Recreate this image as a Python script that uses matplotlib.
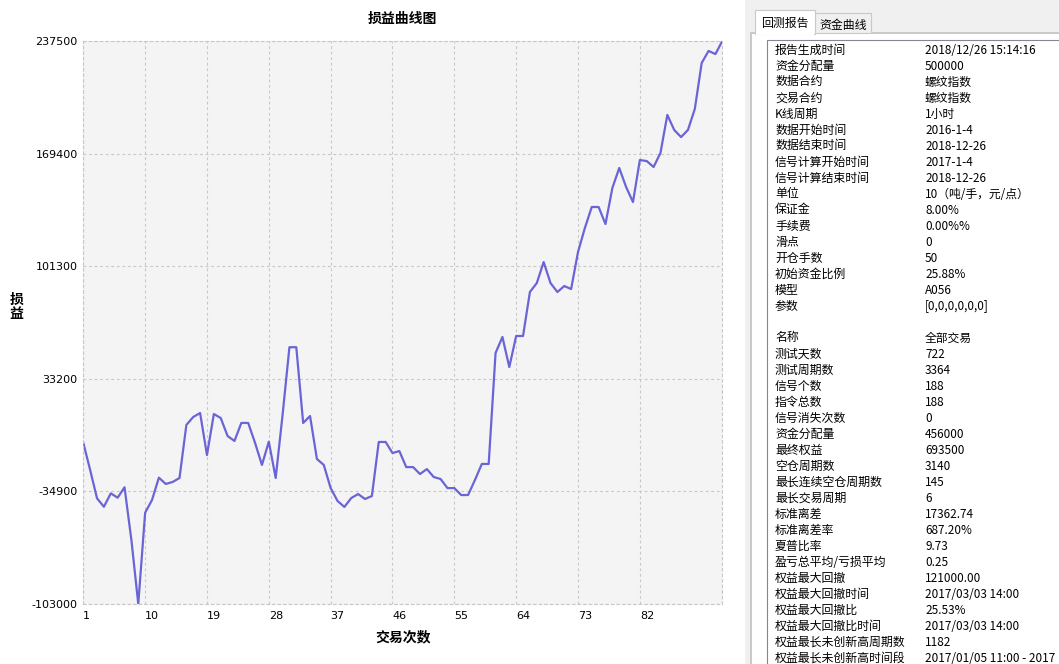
import matplotlib
matplotlib.use("Agg")
import matplotlib.pyplot as plt
from matplotlib.patches import Rectangle

# profit curve, one value per trade
trades = list(range(1, 95))
pnl = [-5500, -22000, -39100, -44200, -36100, -38700, -32400, -64300, -103000, -47800,
       -40100, -26600, -30400, -29200, -26800, 5300, 10100, 12500, -12900, 11900,
       9500, -1400, -4400, 6500, 6500, -5600, -18900, -4800, -26800, 11300,
       52300, 52300, 6500, 10700, -15300, -18900, -32900, -40700, -44300, -38900,
       -36500, -39500, -37700, -5000, -5000, -11700, -10500, -20200, -20200, -24400,
       -21400, -26200, -27400, -32900, -32900, -37100, -37100, -28000, -18300, -18300,
       48800, 58500, 40300, 59100, 59100, 85700, 91100, 103800, 91100, 85700,
       89300, 87500, 109900, 124400, 137100, 137100, 126800, 148600, 160700, 149200,
       140100, 165500, 164900, 161300, 169800, 192800, 183700, 179400, 183700, 196400,
       224200, 231500, 229600, 237500]

x_ticks = [1, 10, 19, 28, 37, 46, 55, 64, 73, 82]
y_ticks = [-103000, -34900, 33200, 101300, 169400, 237500]

# report panel text
report_labels = ["报告生成时间", "资金分配量", "数据合约", "交易合约", "K线周期",
                 "数据开始时间", "数据结束时间", "信号计算开始时间", "信号计算结束时间",
                 "单位", "保证金", "手续费", "滑点", "开仓手数", "初始资金比例", "模型", "参数"]
report_values = ["2018/12/26 15:14:16", "500000", "螺纹指数", "螺纹指数", "1小时",
                 "2016-1-4", "2018-12-26", "2017-1-4", "2018-12-26",
                 "10（吨/手，元/点）", "8.00%", "0.00%%", "0", "50", "25.88%", "A056",
                 "[0,0,0,0,0,0]"]
stats_labels = ["名称", "测试天数", "测试周期数", "信号个数", "指令总数", "信号消失次数",
                "资金分配量", "最终权益", "空仓周期数", "最长连续空仓周期数", "最长交易周期",
                "标准离差", "标准离差率", "夏普比率", "盈亏总平均/亏损平均", "权益最大回撤",
                "权益最大回撤时间", "权益最大回撤比", "权益最大回撤比时间",
                "权益最长未创新高周期数", "权益最长未创新高时间段"]
stats_values = ["全部交易", "722", "3364", "188", "188", "0", "456000", "693500", "3140",
                "145", "6", "17362.74", "687.20%", "9.73", "0.25", "121000.00",
                "2017/03/03 14:00", "25.53%", "2017/03/03 14:00", "1182",
                "2017/01/05 11:00 - 2017"]

W, H = 1059, 664
cjk = ["Noto Sans CJK SC", "DejaVu Sans"]
plt.rcParams["font.family"] = cjk

fig = plt.figure(figsize=(W / 100, H / 100), dpi=100)

# --- chart ---
ax = fig.add_axes([83.3 / W, 1 - 604 / H, 639 / W, 563 / H])
ax.set_facecolor("#f4f4f4")
ax.plot(trades, pnl, color="#6a64d6", linewidth=1.6)
ax.set_xlim(1, 94)
ax.set_ylim(min(pnl), max(pnl))
ax.set_xticks(x_ticks)
ax.set_yticks(y_ticks)
ax.set_xticklabels([str(t) for t in x_ticks], ha="left", family="DejaVu Sans", fontsize=8)
ax.set_yticklabels([str(t) for t in y_ticks], family="DejaVu Sans", fontsize=8)
ax.tick_params(length=0)
ax.tick_params(axis="x", pad=5)
ax.tick_params(axis="y", pad=4)
ax.grid(True, color="#c8c8c8", linestyle=(0, (2.5, 2.5)), linewidth=0.8)
for s in ax.spines.values():
    s.set_color("#c8c8c8")
    s.set_linestyle((0, (2.5, 2.5)))
    s.set_linewidth(0.8)

ax.set_title("损益曲线图", fontsize=10, fontweight="bold", pad=13)
ax.set_xlabel("交易次数", fontsize=10, fontweight="bold", va="center")
ax.xaxis.set_label_coords(0.5, -0.06)
ax.set_ylabel("损\n益", fontsize=10, fontweight="bold", rotation=0,
              va="center", ha="center", linespacing=1.0)
ax.yaxis.set_label_coords(-0.105, 0.527)

# --- report panel (pixel coordinates) ---
side = fig.add_axes([745 / W, 0, (W - 745) / W, 1])
side.set_xlim(745, W)
side.set_ylim(H, 0)
side.axis("off")

side.add_patch(Rectangle((745, 0), W - 745, H, facecolor="#f0f0f0", edgecolor="none"))
side.add_patch(Rectangle((751, 33), 320, 640, facecolor="white",
                         edgecolor="#c9c9c9", linewidth=1.4))
side.add_patch(Rectangle((815, 13), 56, 20, facecolor="#f0f0f0",
                         edgecolor="#c9c9c9", linewidth=0.8))
side.add_patch(Rectangle((755, 10), 60, 24, facecolor="white",
                         edgecolor="#c9c9c9", linewidth=0.8))
side.add_patch(Rectangle((756, 31), 58, 4, facecolor="white", edgecolor="none"))
side.add_patch(Rectangle((767, 40), 320, 640, facecolor="white",
                         edgecolor="#828790", linewidth=0.8))

side.text(785, 23, "回测报告", fontsize=8.6, ha="center", va="center")
side.text(843, 25, "资金曲线", fontsize=8.6, ha="center", va="center")

rows = list(zip(report_labels, report_values)) + [("", "")] + list(zip(stats_labels, stats_values))
for i, (lab, val) in enumerate(rows):
    y = 50 + 16 * i
    side.text(775, y, lab, fontsize=8.6, va="center", ha="left")
    side.text(925, y, val, fontsize=8.5, va="center", ha="left")

fig.savefig("out.png", dpi=100)
